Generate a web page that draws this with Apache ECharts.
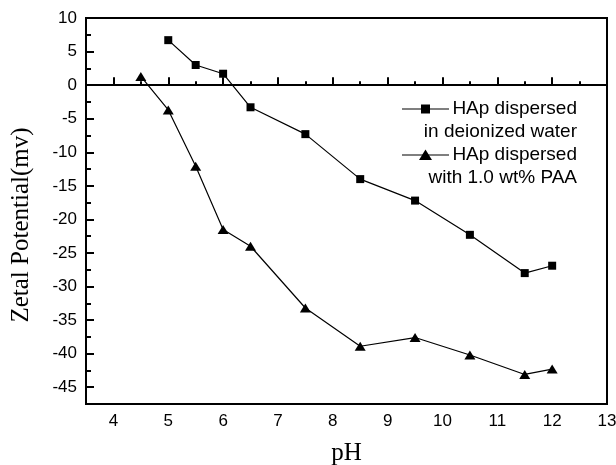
<!DOCTYPE html>
<html>
<head>
<meta charset="utf-8">
<script src="https://cdn.jsdelivr.net/npm/echarts@6/dist/echarts.min.js"></script>
<style>
html,body{margin:0;padding:0;background:#fff;}
#chart{width:616px;height:465px;}
</style>
</head>
<body>
<div id="chart"></div>
<script>
// Data
const phWater = [5, 5.5, 6, 6.5, 7.5, 8.5, 9.5, 10.5, 11.5, 12];
const zetaWater = [6.7, 3.0, 1.7, -3.3, -7.3, -14.0, -17.2, -22.3, -28.0, -26.9];
const phPAA = [4.5, 5, 5.5, 6, 6.5, 7.5, 8.5, 9.5, 10.5, 11.5, 12];
const zetaPAA = [1.3, -3.7, -12.1, -21.5, -24.0, -33.2, -38.9, -37.6, -40.2, -43.1, -42.3];
const xMajorTicks = [4, 5, 6, 7, 8, 9, 10, 11, 12, 13];
const xMinorTicks = [4.5, 5.5, 6.5, 7.5, 8.5, 9.5, 10.5, 11.5, 12.5];
const yMajorTicks = [-45, -40, -35, -30, -25, -20, -15, -10, -5, 0, 5, 10];
const yMinorTicks = [-47.5, -42.5, -37.5, -32.5, -27.5, -22.5, -17.5, -12.5, -7.5, -2.5, 2.5, 7.5];
const seriesNames = ['HAp dispersed\nin deionized water', 'HAp dispersed\nwith 1.0 wt% PAA'];
const xTitle = 'pH';
const yTitle = 'Zetal Potential(mv)';

const sans = '"Liberation Sans", Arial, sans-serif';
const serif = '"Liberation Serif", "Times New Roman", serif';

const chart = echarts.init(document.getElementById('chart'), null, {renderer: 'canvas'});

function pairs(xs, ys) { return xs.map((x, i) => [x, ys[i]]); }

const axisLineStyle = {color: '#000', width: 2};

const option = {
  backgroundColor: '#fff',
  animation: false,
  grid: {
    left: 86, right: 9, top: 18, bottom: 61,
    containLabel: false, outerBoundsMode: 'none',
    show: true, borderColor: '#000', borderWidth: 2, backgroundColor: 'transparent'
  },
  xAxis: [
    {
      type: 'value', position: 'bottom', min: 3.5, max: 13, interval: 0.5,
      name: xTitle, nameLocation: 'middle', nameGap: 37,
      nameTextStyle: {fontFamily: serif, fontSize: 25, color: '#000'},
      axisLine: {show: true, lineStyle: axisLineStyle},
      axisTick: {show: true, inside: true, length: 8, lineStyle: {color: '#000', width: 2}, customValues: xMajorTicks},
      axisLabel: {show: true, customValues: xMajorTicks, margin: 9, fontFamily: sans, fontSize: 17, color: '#000'},
      splitLine: {show: false}
    },
    {
      type: 'value', position: 'bottom', offset: 0, min: 3.5, max: 13, interval: 0.5,
      axisLine: {show: false},
      axisTick: {show: true, inside: true, length: 4, lineStyle: {color: '#000', width: 2}, customValues: xMinorTicks},
      axisLabel: {show: false},
      splitLine: {show: false}
    }
  ],
  yAxis: [
    {
      type: 'value', position: 'left', min: -47.5, max: 10, interval: 2.5,
      axisLine: {show: true, lineStyle: axisLineStyle},
      axisTick: {show: true, inside: true, length: 8, lineStyle: {color: '#000', width: 2}, customValues: yMajorTicks},
      axisLabel: {show: true, customValues: yMajorTicks, margin: 9, fontFamily: sans, fontSize: 17, color: '#000'},
      splitLine: {show: false}
    },
    {
      type: 'value', position: 'left', offset: 0, min: -47.5, max: 10, interval: 2.5,
      axisLine: {show: false},
      axisTick: {show: true, inside: true, length: 5, lineStyle: {color: '#000', width: 2}, customValues: yMinorTicks},
      axisLabel: {show: false},
      splitLine: {show: false}
    }
  ],
  series: [
    {
      name: seriesNames[0], type: 'line', xAxisIndex: 0, yAxisIndex: 0,
      data: pairs(phWater, zetaWater),
      symbol: 'rect', symbolSize: 8,
      itemStyle: {color: '#000'},
      lineStyle: {color: '#000', width: 1.2},
      markLine: {
        silent: true, symbol: 'none', label: {show: false},
        lineStyle: {color: '#000', width: 1.5, type: 'solid'},
        data: [{yAxis: 0}]
      }
    },
    {
      name: seriesNames[1], type: 'line', xAxisIndex: 0, yAxisIndex: 0,
      data: pairs(phPAA, zetaPAA),
      symbol: 'triangle', symbolSize: [11, 9],
      itemStyle: {color: '#000'},
      lineStyle: {color: '#000', width: 1.2}
    }
  ],
  graphic: [
    {type: 'line', shape: {x1: 402, y1: 109, x2: 449, y2: 109}, style: {stroke: '#000', lineWidth: 1.2}},
    {type: 'rect', shape: {x: 421, y: 104.5, width: 9, height: 9}, style: {fill: '#000'}},
    {type: 'text', x: 577, y: 109, style: {text: seriesNames[0].split('\n')[0], fontFamily: sans, fontSize: 19, fill: '#000', align: 'right', verticalAlign: 'middle'}},
    {type: 'text', x: 577, y: 132, style: {text: seriesNames[0].split('\n')[1], fontFamily: sans, fontSize: 19, fill: '#000', align: 'right', verticalAlign: 'middle'}},
    {type: 'line', shape: {x1: 402, y1: 155, x2: 449, y2: 155}, style: {stroke: '#000', lineWidth: 1.2}},
    {type: 'polygon', shape: {points: [[425.5, 149.5], [432, 160], [419, 160]]}, style: {fill: '#000'}},
    {type: 'text', x: 577, y: 155, style: {text: seriesNames[1].split('\n')[0], fontFamily: sans, fontSize: 19, fill: '#000', align: 'right', verticalAlign: 'middle'}},
    {type: 'text', x: 577, y: 177.5, style: {text: seriesNames[1].split('\n')[1], fontFamily: sans, fontSize: 19, fill: '#000', align: 'right', verticalAlign: 'middle'}},
    {type: 'text', x: 21.5, y: 225, rotation: Math.PI / 2,
      style: {text: yTitle, fontFamily: serif, fontSize: 25, fill: '#000', align: 'center', verticalAlign: 'middle'}}
  ]
};
chart.setOption(option);
</script>
</body>
</html>
